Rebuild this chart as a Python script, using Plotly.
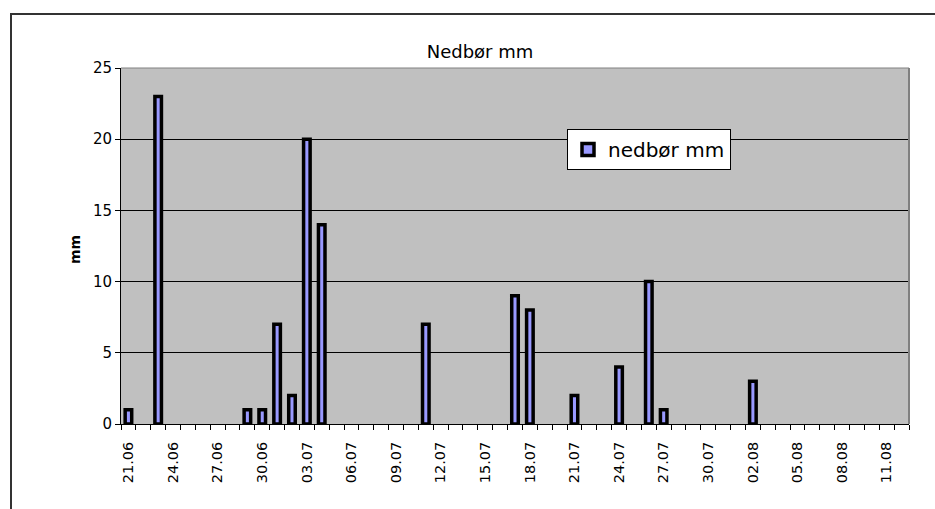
import plotly.graph_objects as go

dates = ["2008-06-21", "2008-06-23", "2008-06-29", "2008-06-30", "2008-07-01",
         "2008-07-02", "2008-07-03", "2008-07-04", "2008-07-11", "2008-07-17",
         "2008-07-18", "2008-07-21", "2008-07-24", "2008-07-26", "2008-07-27",
         "2008-08-02"]
values = [1, 23, 1, 1, 7, 2, 20, 14, 7, 9, 8, 2, 4, 10, 1, 3]

series_name = "nedbør mm"
title_text = "Nedbør mm"
y_title = "mm"

DAY = 86400000
FONT = "DejaVu Sans, Arial, sans-serif"

fig = go.Figure()
fig.add_trace(go.Bar(
    x=dates, y=values, name=series_name,
    width=0.44 * DAY,
    marker=dict(color="#9999FF", line=dict(color="#000000", width=3.5)),
))

W, H = 935, 509
L, R, T, B = 121, 909, 68, 424

fig.update_layout(
    width=W, height=H,
    margin=dict(l=L, r=W - R, t=T, b=H - B),
    paper_bgcolor="white",
    plot_bgcolor="#C0C0C0",
    font=dict(family=FONT, color="black"),
    showlegend=True,
    title=dict(text=title_text, x=480 / W, xanchor="center", y=1 - 52 / H,
               yanchor="middle", font=dict(size=18, family=FONT)),
    legend=dict(x=(567 - L) / (R - L), y=(B - 129) / (B - T), xanchor="left",
                yanchor="top", bgcolor="white", bordercolor="black",
                borderwidth=1, font=dict(size=20, family=FONT),
                itemwidth=30, tracegroupgap=0),
    xaxis=dict(
        type="date",
        range=["2008-06-20 12:00", "2008-08-12 12:00"],
        tick0="2008-06-21", dtick=3 * DAY, tickformat="%d.%m",
        tickangle=-90, ticks="outside", ticklen=11,
        tickcolor="rgba(0,0,0,0)",
        tickfont=dict(size=14.5, family=FONT),
        showgrid=False, showline=True, linecolor="black", linewidth=1,
        minor=dict(tick0="2008-06-20 12:00", dtick=DAY, ticks="outside",
                   ticklen=5, tickcolor="black", showgrid=False),
        zeroline=False,
    ),
    yaxis=dict(
        range=[0, 25], dtick=5, tick0=0,
        showgrid=True, gridcolor="black", gridwidth=1,
        ticks="outside", ticklen=5, tickcolor="black",
        tickfont=dict(size=15, family=FONT),
        showline=True, linecolor="black", linewidth=1, zeroline=False,
    ),
    bargap=0.5,
)

# y-axis title
fig.add_annotation(text="<b>" + y_title + "</b>", xref="paper", yref="paper",
                   x=(65 - L) / (R - L), y=(B - 250) / (B - T),
                   textangle=-90, showarrow=False,
                   font=dict(size=14, family=FONT))

# plot area outline (top and right)
fig.add_shape(type="line", xref="paper", yref="paper", x0=0, x1=1, y0=1, y1=1,
              line=dict(color="#808080", width=1))
fig.add_shape(type="line", xref="paper", yref="paper", x0=1, x1=1, y0=0, y1=1,
              line=dict(color="#808080", width=2))

# chart frame
fig.add_shape(type="rect", xref="paper", yref="paper",
              x0=(11 - L) / (R - L), x1=(W + 20 - L) / (R - L),
              y0=(B - (H + 20)) / (B - T), y1=(B - 14) / (B - T),
              line=dict(color="#333333", width=2), layer="above")

fig.write_html("out.html")
